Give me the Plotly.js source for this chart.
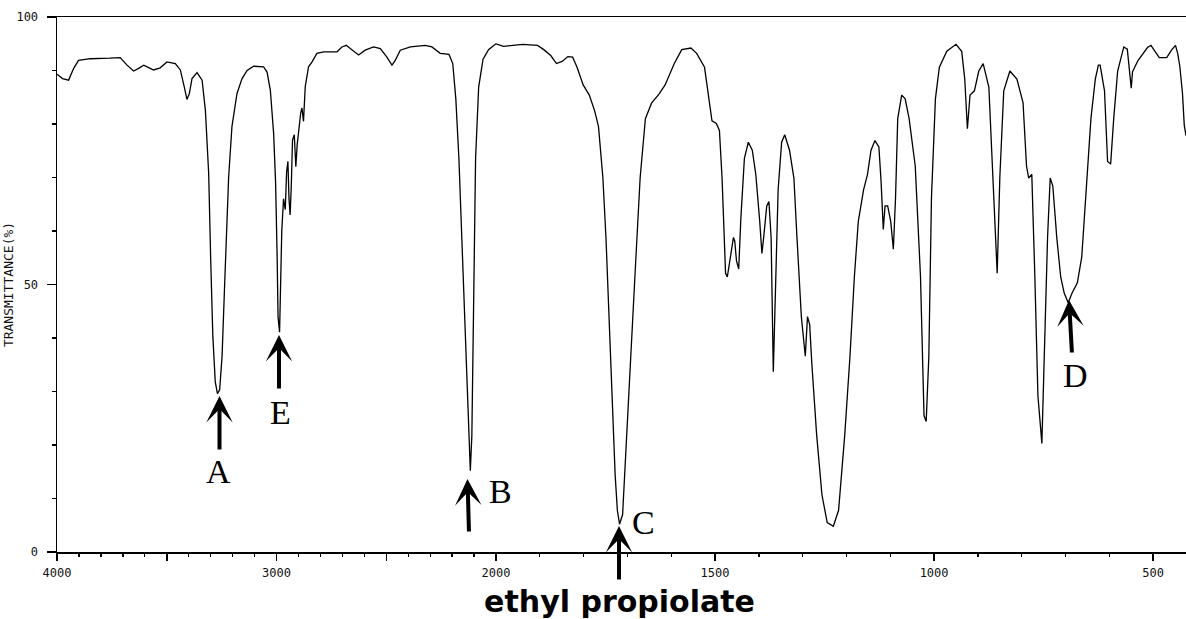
<!DOCTYPE html>
<html>
<head>
<meta charset="utf-8">
<script src="https://cdn.plot.ly/plotly-3.0.1.min.js"></script>
<style>
  html, body { margin: 0; padding: 0; background: #fff; }
  #chart { width: 1186px; height: 619px; }
</style>
</head>
<body>
<div id="chart"></div>
<script>
// Wavenumbers (cm^-1) and % transmittance, 4000 -> 2000 cm^-1 region
const wnHigh = [4000,3975,3947,3924,3902,3848,3760,3712,3681,3651,3628,3605,3580,3560,3530,3499,3461,3438,3420,3408,3397,3385,3362,3339,3324,3309,3300,3290,3279,3269,3259,3248,3235,3218,3203,3180,3157,3134,3104,3059,3043,3028,3013,3004,2997,2993,2986,2982,2976,2968,2960,2954,2948,2943,2938,2933,2927,2919,2912,2906,2899,2890,2884,2877,2869,2854,2838,2816,2785,2724,2702,2682,2664,2626,2596,2558,2527,2497,2474,2459,2436,2390,2322,2292,2254,2214,2197,2183,2169,2155,2142,2128,2117,2110,2104,2093,2079,2059,2034,2000];
const tHigh  = [89.3,88.5,88.2,90.4,91.9,92.2,92.3,92.4,91.0,89.9,90.4,91.0,90.5,90.1,90.5,91.6,91.3,90.1,86.9,84.6,85.7,88.5,89.6,88.2,82.6,70.8,55.0,40.3,31.8,29.6,30.3,36.6,51.4,70.1,79.5,85.7,88.5,90.0,90.8,90.7,89.7,86.3,78.2,68.9,55.0,44.0,41.1,50.0,60.0,66.0,64.0,71.0,73.0,66.0,63.0,68.0,77.0,78.0,72.0,76.0,79.0,82.0,83.0,80.5,87.0,90.7,91.6,93.2,93.5,93.5,94.4,94.7,94.1,92.9,93.8,94.4,94.1,92.5,91.0,91.9,93.8,94.4,94.7,94.4,93.2,93.0,91.3,84.7,73.6,58.8,44.0,29.2,15.2,21.8,44.0,73.6,86.9,92.1,93.9,95.0];

// 2000 -> 425 cm^-1 region (plotted on a doubled scale)
const wnLow = [2000,1983,1939,1905,1891,1875,1862,1849,1836,1825,1815,1801,1787,1775,1766,1756,1749,1742,1735,1728,1723,1718,1711,1706,1697,1683,1671,1659,1645,1628,1614,1593,1576,1555,1542,1524,1514,1507,1497,1490,1484,1479,1476,1472,1469,1464,1458,1455,1451,1446,1441,1433,1424,1415,1407,1398,1393,1389,1382,1377,1372,1367,1362,1356,1348,1341,1330,1320,1313,1303,1294,1289,1284,1279,1268,1256,1244,1230,1218,1204,1192,1182,1173,1161,1152,1144,1135,1126,1121,1116,1112,1106,1099,1093,1088,1083,1074,1066,1057,1043,1031,1023,1018,1012,1006,997,988,971,950,937,930,924,918,908,898,888,875,863,856,850,841,827,811,797,789,784,777,770,763,754,748,741,735,729,720,711,703,694,685,673,663,651,642,632,625,621,611,604,600,597,590,581,567,559,550,547,535,524,513,505,497,486,469,459,449,444,439,433,429,425];
const tLow  = [95.0,94.5,94.9,94.7,93.9,92.8,91.3,91.7,92.6,92.5,90.6,87.3,85.4,82.5,79.5,69.9,58.8,44.0,29.2,14.4,7.8,5.2,7.0,14.4,29.2,51.4,69.9,81.0,83.9,85.6,87.3,91.3,93.9,94.2,93.2,90.6,84.7,80.6,80.1,78.8,69.9,58.8,52.1,51.4,52.9,55.8,58.8,58.1,54.4,52.9,62.5,73.6,76.6,75.1,70.6,61.8,55.8,58.8,64.7,65.5,58.8,33.7,51.4,67.7,76.6,78.0,75.1,69.9,58.8,44.0,36.6,44.0,42.5,35.1,21.8,10.7,5.5,4.8,7.8,21.8,36.6,51.4,61.8,67.7,70.6,75.1,76.9,75.7,69.2,60.3,64.7,64.7,61.8,56.6,66.2,81.0,85.4,84.7,81.0,72.1,51.4,25.5,24.4,36.6,66.2,84.7,90.6,93.6,94.9,93.6,88.4,79.1,85.4,86.2,89.9,91.3,86.9,66.2,52.1,69.9,86.2,89.9,88.4,84.0,72.1,69.9,70.6,51.4,29.2,20.3,36.6,58.8,69.9,68.4,58.8,51.4,48.4,46.6,48.4,50.3,55.1,69.9,81.0,88.4,91.0,91.0,86.2,73.0,72.7,72.5,81.0,89.9,94.4,94.0,86.7,89.8,91.8,93.0,94.3,94.7,93.7,92.4,92.4,93.7,94.7,93.2,90.7,85.7,79.8,77.8];

const highTicks = [4000,3500,3000,2500,2000];
const highTickText = ['4000','','3000','','2000'];
const lowTicks = [1500,1000,500];
const lowTickText = ['1500','1000','500'];
const yTicks = [0,50,100];
const yTickText = ['0','50','100'];

const chartTitle = 'ethyl propiolate';
const yTitle = 'TRANSMITTANCE(%)';

const labels = ['A','E','B','C','D'];

const tickFont = {family: 'DejaVu Sans Mono, monospace', size: 12, color: '#111'};

const traces = [
  {x: wnHigh, y: tHigh, xaxis: 'x', yaxis: 'y', mode: 'lines', type: 'scatter',
   line: {color: '#000', width: 1.3}, hoverinfo: 'skip', showlegend: false},
  {x: wnLow, y: tLow, xaxis: 'x2', yaxis: 'y', mode: 'lines', type: 'scatter',
   line: {color: '#000', width: 1.3}, hoverinfo: 'skip', showlegend: false}
];

const L = 57, R = 1186, T = 17, B = 552;
const pw = R - L, ph = B - T;
const px = v => (v - L) / pw;
const py = v => (B - v) / ph;

// arrow tips (pixels) and tail offsets
const arrowDefs = [
  {tip: [219.5, 396], ax: 0, ay: 55},
  {tip: [279, 335], ax: 0, ay: 55},
  {tip: [467.5, 479], ax: 1.5, ay: 54},
  {tip: [619, 526], ax: 0, ay: 55},
  {tip: [1069, 300], ax: 3, ay: 54}
];
const labelPos = [[218.6, 471], [280.6, 412], [500.8, 491], [643, 522], [1075.6, 375]];

const annotations = [];
arrowDefs.forEach(a => {
  annotations.push({
    xref: 'paper', yref: 'paper', x: px(a.tip[0]), y: py(a.tip[1]),
    text: '', showarrow: true, arrowhead: 3, arrowsize: 1.1, arrowwidth: 4,
    arrowcolor: '#000', ax: a.ax, ay: a.ay, standoff: 0
  });
});
labels.forEach((t, i) => {
  annotations.push({
    xref: 'paper', yref: 'paper', x: px(labelPos[i][0]), y: py(labelPos[i][1]),
    xanchor: 'center', yanchor: 'middle', showarrow: false, text: t,
    font: {family: 'Liberation Serif, Times New Roman, serif', size: 34, color: '#000'}
  });
});

const split = 439 / 1129;

const layout = {
  width: 1186, height: 619,
  margin: {l: L, r: 0, t: T, b: 619 - B, pad: 0},
  paper_bgcolor: '#fff', plot_bgcolor: '#fff',
  showlegend: false,
  title: {
    text: chartTitle, xref: 'container', yref: 'container',
    x: 619.5 / 1186, xanchor: 'center', y: 0.012, yanchor: 'bottom',
    font: {family: 'DejaVu Sans, sans-serif', size: 30, color: '#000', weight: 'bold'}
  },
  xaxis: {
    domain: [0, split], range: [4000, 2000], anchor: 'y',
    showgrid: false, zeroline: false, showline: true, linecolor: '#000', linewidth: 1.5,
    mirror: true, ticks: 'outside', ticklen: 7, tickwidth: 1.5, tickcolor: '#000',
    tickmode: 'array', tickvals: highTicks, ticktext: highTickText,
    tickfont: tickFont, ticklabelstandoff: 2,
    minor: {dtick: 100, tick0: 0, ticks: 'outside', ticklen: 3.5, tickwidth: 1.3, tickcolor: '#000', showgrid: false}
  },
  xaxis2: {
    domain: [split, 1], range: [2000, 425], anchor: 'y',
    showgrid: false, zeroline: false, showline: true, linecolor: '#000', linewidth: 1.5,
    mirror: true, ticks: 'outside', ticklen: 7, tickwidth: 1.5, tickcolor: '#000',
    tickmode: 'array', tickvals: lowTicks, ticktext: lowTickText,
    tickfont: tickFont, ticklabelstandoff: 2,
    minor: {dtick: 100, tick0: 0, ticks: 'outside', ticklen: 3.5, tickwidth: 1.3, tickcolor: '#000', showgrid: false}
  },
  yaxis: {
    range: [0, 100], showgrid: false, zeroline: false, showline: true,
    linecolor: '#000', linewidth: 1.5, ticks: 'outside', ticklen: 9, tickwidth: 1.5, tickcolor: '#000',
    tickmode: 'array', tickvals: yTicks, ticktext: yTickText, tickfont: tickFont,
    ticklabelstandoff: 6,
    minor: {dtick: 10, ticks: 'outside', ticklen: 4, tickwidth: 1.3, tickcolor: '#000', showgrid: false},
    title: {text: yTitle, standoff: 0, font: {family: 'DejaVu Sans Mono, monospace', size: 13, color: '#111'}}
  },
  annotations: annotations
};

Plotly.newPlot('chart', traces, layout, {staticPlot: true, displayModeBar: false});
</script>
</body>
</html>
